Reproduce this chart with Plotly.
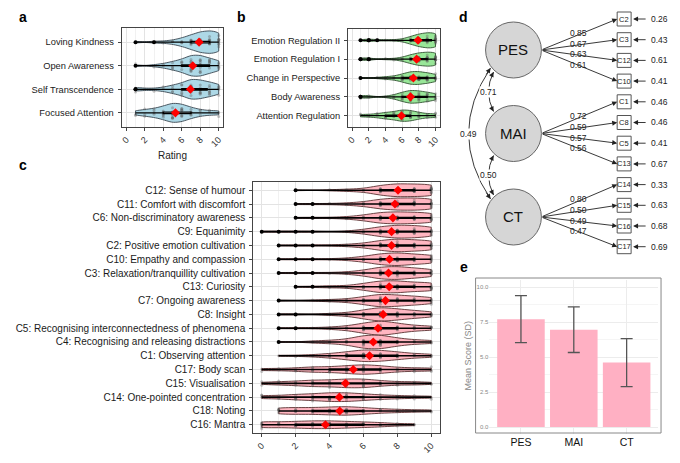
import plotly.graph_objects as go

W, H = 680, 463
PAD = 8  # default page margin around the plot div

# ---- panel a: meditation styles (counts of ratings 0..10) ----
a_cats = ["Loving Kindness", "Open Awareness", "Self Transcendence", "Focused Attention"]
a_counts = [
    [0, 1, 0, 1, 1, 2, 4, 7, 10, 11, 10],
    [0, 1, 0, 1, 2, 4, 6, 10, 10, 7, 5],
    [0, 2, 1, 1, 2, 4, 6, 10, 9, 7, 5],
    [0, 2, 3, 4, 6, 9, 8, 5, 3, 2, 2],
]

# ---- panel b: mechanisms ----
b_cats = ["Emotion Regulation II", "Emotion Regulation I", "Change in Perspective",
          "Body Awareness", "Attention Regulation"]
b_counts = [
    [0, 1, 2, 1, 1, 1, 2, 6, 10, 12, 12],
    [0, 2, 2, 0, 1, 1, 3, 7, 10, 11, 11],
    [0, 1, 0, 1, 2, 3, 6, 10, 10, 8, 6],
    [0, 2, 2, 0, 1, 3, 7, 10, 9, 7, 5],
    [0, 2, 2, 3, 5, 6, 9, 8, 5, 3, 3],
]

# ---- panel c: components ----
c_cats = ["C12: Sense of humour", "C11: Comfort with discomfort", "C6: Non-discriminatory awareness",
          "C9: Equanimity", "C2: Positive emotion cultivation", "C10: Empathy and compassion",
          "C3: Relaxation/tranquillity cultivation", "C13: Curiosity", "C7: Ongoing awareness",
          "C8: Insight", "C5: Recognising interconnectedness of phenomena",
          "C4: Recognising and releasing distractions", "C1: Observing attention",
          "C17: Body scan", "C15: Visualisation", "C14: One-pointed concentration",
          "C18: Noting", "C16: Mantra"]
c_counts = [
    [0, 0, 1, 0, 1, 2, 3, 9, 12, 11, 11],
    [0, 0, 1, 1, 1, 2, 4, 9, 11, 11, 10],
    [0, 0, 1, 1, 1, 2, 5, 10, 11, 10, 9],
    [1, 1, 1, 1, 0, 1, 4, 9, 12, 11, 9],
    [0, 1, 1, 1, 1, 2, 4, 9, 12, 10, 9],
    [0, 1, 1, 1, 1, 2, 5, 10, 12, 9, 8],
    [0, 1, 1, 1, 1, 2, 5, 11, 12, 9, 7],
    [0, 0, 1, 1, 2, 2, 6, 11, 11, 8, 8],
    [0, 1, 0, 1, 2, 3, 7, 12, 10, 8, 6],
    [0, 1, 1, 0, 2, 3, 8, 13, 10, 7, 5],
    [0, 1, 1, 1, 2, 4, 9, 14, 9, 5, 4],
    [0, 1, 0, 2, 3, 5, 12, 13, 7, 4, 3],
    [0, 1, 1, 2, 4, 7, 11, 10, 7, 4, 3],
    [2, 2, 3, 5, 5, 7, 9, 7, 4, 3, 3],
    [2, 3, 4, 6, 6, 8, 8, 5, 3, 3, 2],
    [3, 3, 5, 6, 8, 8, 6, 4, 3, 2, 2],
    [0, 6, 6, 6, 7, 8, 6, 4, 3, 2, 2],
    [6, 5, 6, 7, 7, 6, 5, 4, 2, 2, 0],
]

# ---- panel d: CFA model ----
factors = ["PES", "MAI", "CT"]
items = [["C2", "C3", "C12", "C10"], ["C1", "C8", "C5", "C13"], ["C14", "C15", "C16", "C17"]]
loadings = [[0.85, 0.67, 0.63, 0.61], [0.72, 0.59, 0.57, 0.56], [0.80, 0.50, 0.49, 0.47]]
residuals = [[0.26, 0.43, 0.61, 0.41], [0.46, 0.46, 0.41, 0.67], [0.33, 0.63, 0.68, 0.69]]
cov_pairs = [(0, 1), (1, 2), (0, 2)]
cov_values = [0.71, 0.50, 0.49]

# ---- panel e: factor means ----
e_factors = ["PES", "MAI", "CT"]
e_means = [7.7, 6.95, 4.6]
e_sd = [1.68, 1.63, 1.71]

FONT = "Liberation Sans, Arial, sans-serif"
FW, FH = W - 2 * PAD, H - 2 * PAD


# page pixel -> paper coords
def X(p):
    return (p - PAD) / FW


def Y(p):
    return 1 - (p - PAD) / FH


def dom_x(p0, p1):
    return [X(p0), X(p1)]


def dom_y(p0, p1):
    return [Y(p1), Y(p0)]


def note(text, px, py, size, color="#222", **kw):
    d = dict(text=text, x=X(px), y=Y(py), xref="paper", yref="paper", showarrow=False,
             xanchor="center", yanchor="middle", font=dict(size=size, color=color))
    d.update(kw)
    return d


def arrow(hx, hy, tx, ty):
    return dict(text="", x=X(hx), y=Y(hy), xref="paper", yref="paper", showarrow=True,
                ax=tx - hx, ay=ty - hy, axref="pixel", ayref="pixel", arrowhead=2,
                arrowsize=1.1, arrowwidth=0.9, arrowcolor="#222", standoff=0,
                xanchor="center", yanchor="middle")


def expand(cats, counts):
    xs, ys = [], []
    for c, row in zip(cats, counts):
        for rating, k in enumerate(row):
            xs += [rating] * k
            ys += [c] * k
    return xs, ys


def add_violins(fig, ax, cats, counts, fill, edge, lw, boxfill, scale, vwidth):
    xs, ys = expand(cats, counts)
    xa, ya = "x" + ax, "y" + ax
    fig.add_trace(go.Violin(
        x=xs, y=ys, orientation="h", xaxis=xa, yaxis=ya, fillcolor=fill,
        line=dict(color=edge, width=0.9), points="all", pointpos=0, jitter=0.6,
        marker=dict(color="rgba(90,90,90,0.35)", size=3), width=vwidth,
        scalemode=scale, spanmode="hard", bandwidth=0.6, box_visible=False,
        meanline_visible=False, hoverinfo="skip", showlegend=False))
    # whisker line min..max
    fig.add_trace(go.Box(
        x=xs, y=ys, orientation="h", xaxis=xa, yaxis=ya, boxpoints=False,
        width=0.06, fillcolor=boxfill, whiskerwidth=0,
        line=dict(color="black", width=lw), hoverinfo="skip", showlegend=False))
    # outliers
    fig.add_trace(go.Box(
        x=xs, y=ys, orientation="h", xaxis=xa, yaxis=ya, boxpoints="outliers",
        width=0.06, fillcolor="rgba(0,0,0,0)", line=dict(color="rgba(0,0,0,0)", width=0),
        marker=dict(color="black", size=4, outliercolor="black"),
        hoverinfo="skip", showlegend=False))
    means = [sum(r * k for r, k in enumerate(row)) / sum(row) for row in counts]
    fig.add_trace(go.Scatter(
        x=means, y=cats, mode="markers", xaxis=xa, yaxis=ya,
        marker=dict(color="#ff0000", size=7, symbol="diamond"),
        hoverinfo="skip", showlegend=False))


def rating_axis(domain, anchor, title=None):
    d = dict(domain=domain, anchor=anchor, range=[-0.5, 10.5], tickvals=list(range(0, 11, 2)),
             tickangle=-45, showgrid=True, gridcolor="#e3e3e3", gridwidth=0.8,
             minor=dict(showgrid=True, dtick=1, gridcolor="#f1f1f1"),
             showline=True, mirror=True, linecolor="#444", linewidth=1,
             ticks="outside", ticklen=3, tickcolor="#444",
             tickfont=dict(size=9, color="#333"), zeroline=False, fixedrange=True)
    if title:
        d["title"] = dict(text=title, font=dict(size=10, color="#222"), standoff=4)
    return d


def cat_axis(domain, anchor, cats, size):
    n = len(cats)
    return dict(domain=domain, anchor=anchor, type="category", categoryorder="array",
                categoryarray=cats, range=[n - 0.4, -0.6], showgrid=True, gridcolor="#e3e3e3",
                showline=True, mirror=True, linecolor="#444", linewidth=1,
                ticks="outside", ticklen=3, tickcolor="#444", ticklabelstandoff=2,
                tickfont=dict(size=size, color="#1a1a1a"), zeroline=False, fixedrange=True)


fig = go.Figure()
add_violins(fig, "", a_cats, a_counts, "#add8e6", "#3a4650", 1.3, "rgba(255,255,255,0.7)", "width", 0.95)
add_violins(fig, "2", b_cats, b_counts, "#98e698", "#2f4f2f", 1.3, "rgba(255,255,255,0.7)", "width", 0.8)
add_violins(fig, "3", c_cats, c_counts, "#ffb6c1", "#5a3232", 1.6, "#222", "count", 1.0)

fig.add_trace(go.Bar(
    x=e_factors, y=e_means, xaxis="x4", yaxis="y4", marker=dict(color="#ffb0c3", line=dict(width=0)),
    error_y=dict(type="data", array=e_sd, color="#555", thickness=1.3, width=6),
    hoverinfo="skip", showlegend=False))

shapes, annots = [], []

# panel e frame and title
shapes.append(dict(type="rect", xref="paper", yref="paper", x0=X(475), x1=X(661), y0=Y(433), y1=Y(278),
                   line=dict(color="#888", width=1)))
annots.append(note("Mean Score (SD)", 467, 356, 9, "#888", textangle=-90))

# panel letters
for letter, px, py in [("a", 21, 17), ("b", 240, 17), ("c", 21, 165), ("d", 463, 17), ("e", 463, 267)]:
    annots.append(note("<b>%s</b>" % letter, px, py, 14, "black"))

# panel d: SEM diagram
cx, r = 513, 28
fac_y = [50 + i * 83.5 for i in range(len(factors))]
box_x0, box_x1 = 617, 631
k = 0
for i, f in enumerate(factors):
    cy = fac_y[i]
    shapes.append(dict(type="circle", xref="paper", yref="paper", x0=X(cx - r), x1=X(cx + r),
                       y0=Y(cy + r), y1=Y(cy - r), fillcolor="#d6d6d6", line=dict(color="#666", width=1)))
    annots.append(note(f, cx, cy, 15, "#111"))
    for item, lo, res in zip(items[i], loadings[i], residuals[i]):
        by = 19 + k * 20.7
        k += 1
        shapes.append(dict(type="rect", xref="paper", yref="paper", x0=X(box_x0), x1=X(box_x1),
                           y0=Y(by + 7), y1=Y(by - 7), fillcolor="white", line=dict(color="#555", width=1)))
        annots.append(note(item, (box_x0 + box_x1) / 2, by, 7.5))
        sx = cx + r
        annots.append(arrow(box_x0, by, sx, cy))
        t = 0.52
        annots.append(note("%.2f" % lo, sx + t * (box_x0 - sx) - 2, cy + t * (by - cy) - 1, 8.5))
        annots.append(arrow(box_x1 + 2, by, box_x1 + 16, by))
        annots.append(note("%.2f" % res, 649, by, 8.5, xanchor="left"))

for (i, j), v in zip(cov_pairs, cov_values):
    wide = (j - i) > 1
    p0 = (cx - 23 if wide else cx - 20, fac_y[i] + (18 if wide else 22))
    p2 = (cx - 23 if wide else cx - 20, fac_y[j] - (18 if wide else 22))
    mid_x = 468 if wide else 488
    c = (2 * mid_x - (p0[0] + p2[0]) / 2, (p0[1] + p2[1]) / 2)
    shapes.append(dict(type="path", xref="paper", yref="paper",
                       path="M %f,%f Q %f,%f %f,%f" % (X(p0[0]), Y(p0[1]), X(c[0]), Y(c[1]), X(p2[0]), Y(p2[1])),
                       line=dict(color="#222", width=0.9)))
    for p in (p0, p2):
        s = 0.12 if wide else 0.3
        annots.append(arrow(p[0], p[1], p[0] + s * (c[0] - p[0]), p[1] + s * (c[1] - p[1])))
    annots.append(note("%.2f" % v, mid_x, c[1], 8.5, bgcolor="white", borderpad=0))

fig.update_layout(
    width=FW, height=FH, autosize=False, margin=dict(l=0, r=0, t=0, b=0),
    paper_bgcolor="white", plot_bgcolor="rgba(0,0,0,0)",
    font=dict(family=FONT, color="#222"),
    violinmode="overlay", boxmode="overlay", violingap=0, violingroupgap=0,
    boxgap=0, boxgroupgap=0, bargap=0.1,
    xaxis=rating_axis(dom_x(120, 222), "y", "Rating"),
    yaxis=cat_axis(dom_y(28, 127), "x", a_cats, 9.3),
    xaxis2=rating_axis(dom_x(347, 439), "y2"),
    yaxis2=cat_axis(dom_y(29, 127), "x2", b_cats, 9.3),
    xaxis3=rating_axis(dom_x(252, 439), "y3"),
    yaxis3=cat_axis(dom_y(182, 433), "x3", c_cats, 10),
    xaxis4=dict(domain=dom_x(488.7, 658.3), anchor="y4", type="category", range=[-0.6, 2.6],
                showgrid=True, gridcolor="#ececec", showline=False, ticks="",
                tickfont=dict(size=10.5, color="#111"), fixedrange=True),
    yaxis4=dict(domain=dom_y(280, 434), anchor="x4", range=[-0.5, 10.5],
                tickvals=[0, 2.5, 5, 7.5, 10], ticktext=["0.0", "2.5", "5.0", "7.5", "10.0"],
                tickfont=dict(size=6, color="#888"), showgrid=True, gridcolor="#ececec",
                minor=dict(showgrid=True, dtick=1.25, gridcolor="#f5f5f5"),
                showline=False, zeroline=False, ticks="", fixedrange=True),
    shapes=shapes, annotations=annots,
)

fig.write_html("out.html")
